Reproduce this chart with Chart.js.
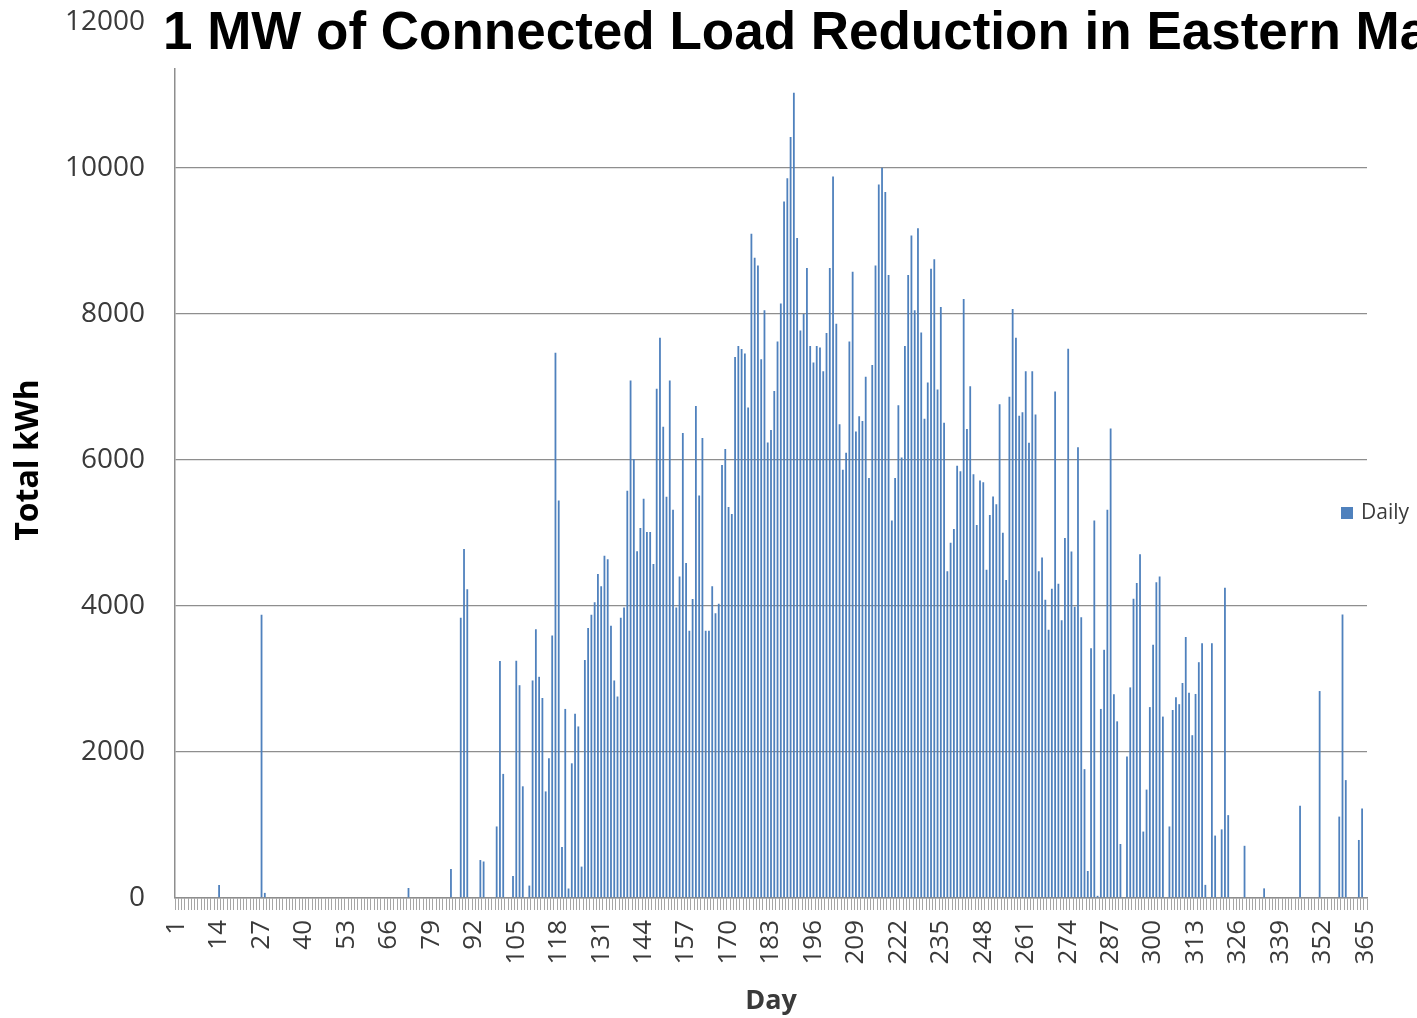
<!DOCTYPE html>
<html>
<head>
<meta charset="utf-8">
<title>1 MW of Connected Load Reduction</title>
<script src="https://cdn.jsdelivr.net/npm/chart.js@4.4.1/dist/chart.umd.min.js"></script>
<style>
  html, body { margin: 0; padding: 0; background: #fff; }
  #wrap { width: 1417px; height: 1018px; }
</style>
</head>
<body>
<div id="wrap"><canvas id="chart" width="1417" height="1018"></canvas></div>
<script>
var chartTitle = '1 MW of Connected Load Reduction in Eastern Massachusetts';
var seriesName = 'Daily';
var yTitle = 'Total kWh';
var xTitle = 'Day';

// categories: day of year
var days = [];
for (var d = 1; d <= 365; d++) days.push(String(d));

// labels shown under the axis
var tickDays = [1, 14, 27, 40, 53, 66, 79, 92, 105, 118, 131, 144, 157, 170, 183, 196,
  209, 222, 235, 248, 261, 274, 287, 300, 313, 326, 339, 352, 365];
var yTicks = [0, 2000, 4000, 6000, 8000, 10000, 12000];

// total kWh per day (10 days per row)
var dailyKwh = [
  0, 0, 0, 0, 0, 0, 0, 0, 0, 0,
  0, 0, 0, 178, 0, 0, 0, 0, 0, 0,
  0, 0, 0, 0, 0, 0, 3880, 70, 0, 0,
  0, 0, 0, 0, 0, 0, 0, 0, 0, 0,
  0, 0, 0, 0, 0, 0, 0, 0, 0, 0,
  0, 0, 0, 0, 0, 0, 0, 0, 0, 0,
  0, 0, 0, 0, 0, 0, 0, 0, 0, 0,
  0, 137, 0, 0, 0, 0, 0, 0, 0, 0,
  0, 0, 0, 0, 397, 0, 0, 3840, 4780, 4230,
  0, 0, 0, 520, 500, 0, 0, 0, 980, 3245,
  1700, 0, 0, 300, 3250, 2915, 1530, 0, 170, 2980,          // 101
  3680, 3030, 2740, 1460, 1915, 3595, 7470, 5445, 700, 2590,
  130, 1845, 2525, 2350, 430, 3260, 3700, 3880, 4050, 4440,
  4270, 4690, 4640, 3730, 2980, 2760, 3840, 3980, 5580, 7090,
  6015, 4750, 5070, 5470, 5015, 5015, 4575, 6975, 7675, 6455,
  5495, 7090, 5320, 3980, 4405, 6370, 4590, 3660, 4095, 6740,
  5515, 6300, 3660, 3660, 4270, 3900, 4030, 5930, 6150, 5355,
  5260, 7410, 7560, 7520, 7460, 6720, 9100, 8770, 8665, 7380,
  8050, 6240, 6410, 6945, 7625, 8145, 9540, 9860, 10425, 11030,
  9040, 7775, 8000, 8630, 7560, 7335, 7560, 7540, 7215, 7740,
  8630, 9885, 7865, 6490, 5865, 6100, 7625, 8580, 6390, 6600,   // 201
  6535, 7140, 5755, 7300, 8665, 9775, 10005, 9670, 8535, 5170,
  5755, 6750, 6035, 7560, 8535, 9075, 8050, 9175, 7745, 6565,
  7060, 8620, 8750, 6965, 8095, 6510, 4475, 4865, 5055, 5920,
  5845, 8205, 6425, 7010, 5805, 5110, 5720, 5695, 4495, 5245,
  5500, 5395, 6765, 5005, 4355, 6865, 8070, 7675, 6605, 6655,
  7215, 6235, 7215, 6625, 4475, 4665, 4085, 3675, 4235, 6940,
  4305, 3805, 4930, 7525, 4745, 3990, 6175, 3845, 1765, 370,
  3420, 5170, 30, 2590, 3400, 5320, 6430, 2790, 2420, 740,
  0, 1940, 2885, 4100, 4315, 4710, 910, 1485, 2615, 3470,
  4325, 4405, 2485, 0, 980, 2575, 2750, 2655, 2945, 3575,       // 301
  2810, 2230, 2795, 3230, 3490, 180, 0, 3490, 855, 0,
  940, 4250, 1135, 0, 0, 0, 0, 715, 0, 0,
  0, 0, 0, 132, 0, 0, 0, 0, 0, 0,
  0, 0, 0, 0, 1265, 0, 0, 0, 0, 0,
  2835, 0, 0, 0, 0, 0, 1115, 3885, 1615, 0,
  0, 0, 795, 1225, 0
];

var textColor = '#3a3a3a';
var gridColor = '#8e8e8e';

// title and legend sit on top of the plot, like in the original
var overlayPlugin = {
  id: 'overlay',
  afterDraw: function (chart) {
    var ctx = chart.ctx;
    ctx.save();
    ctx.fillStyle = '#ffffff';
    ctx.fillRect(152, 0, chart.width - 152, 68);

    ctx.fillStyle = '#000000';
    ctx.font = 'bold 53px "Liberation Sans", Arial, sans-serif';
    ctx.textAlign = 'left';
    ctx.textBaseline = 'alphabetic';
    ctx.fillText(chartTitle, 163, 49);

    var ds = chart.data.datasets[0];
    ctx.fillStyle = ds.backgroundColor;
    ctx.fillRect(1341, 507, 12, 12);
    ctx.fillStyle = textColor;
    ctx.font = '21px "Open Sans", sans-serif';
    ctx.textBaseline = 'middle';
    ctx.fillText(ds.label, 1361, 513);
    ctx.restore();
  }
};

var ctx = document.getElementById('chart');

var chart = new Chart(ctx, {
  type: 'bar',
  data: {
    labels: days,
    datasets: [{
      label: seriesName,
      data: dailyKwh,
      backgroundColor: '#4f81bd',
      borderWidth: 0,
      barPercentage: 0.55,
      categoryPercentage: 1.0
    }]
  },
  options: {
    responsive: false,
    animation: false,
    layout: {
      padding: { top: 22, right: 50, bottom: 0, left: 0 }
    },
    plugins: {
      legend: { display: false },
      title: { display: false },
      tooltip: { enabled: false }
    },
    scales: {
      x: {
        grid: {
          drawOnChartArea: false,
          drawTicks: true,
          tickLength: 12,
          color: '#a6a6a6',
          offset: true
        },
        border: { display: true, color: gridColor, width: 1.5 },
        ticks: {
          autoSkip: false,
          maxRotation: 90,
          minRotation: 90,
          padding: 10,
          color: textColor,
          font: { family: '"Open Sans", sans-serif', size: 26 },
          callback: function (val, idx) {
            var lab = days[idx];
            return tickDays.indexOf(Number(lab)) >= 0 ? lab : '';
          }
        },
        title: {
          display: true,
          text: xTitle,
          color: textColor,
          padding: { top: 0, bottom: 0 },
          font: { family: '"Open Sans", sans-serif', size: 27, weight: 'bold' }
        },
        afterFit: function (scale) { scale.height = 120; }
      },
      y: {
        min: yTicks[0],
        max: yTicks[yTicks.length - 1],
        grid: {
          drawTicks: false,
          lineWidth: 1.3,
          color: function (c) {
            return c.tick && c.tick.value === yTicks[yTicks.length - 1] ? 'rgba(0,0,0,0)' : gridColor;
          }
        },
        border: { display: true, color: gridColor, width: 1.5 },
        ticks: {
          stepSize: yTicks[1] - yTicks[0],
          padding: 30,
          color: textColor,
          font: { family: '"Open Sans", sans-serif', size: 28 },
          callback: function (v) { return String(v); }
        },
        title: {
          display: true,
          text: yTitle,
          color: '#000000',
          padding: { top: 10, bottom: 0 },
          font: { family: '"Open Sans", sans-serif', size: 32, weight: 'bold' }
        },
        afterFit: function (scale) {
          scale.width = 175;
          // the tick padding should not push the plot down
          scale.paddingTop = 0;
          scale.paddingBottom = 0;
        }
      }
    }
  },
  plugins: [overlayPlugin]
});
</script>
</body>
</html>
